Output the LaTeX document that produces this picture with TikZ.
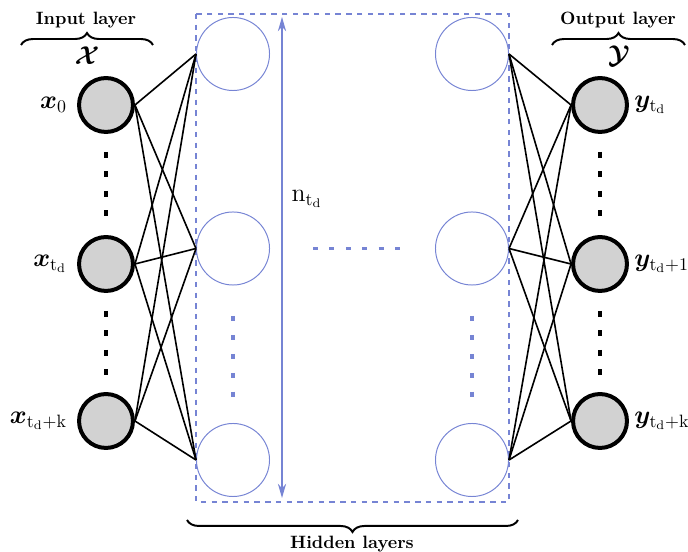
\documentclass[tikz,border=0pt]{standalone}
\usepackage{amsmath,bm}
\usetikzlibrary{arrows.meta,decorations.pathreplacing}
\definecolor{hidblue}{RGB}{118,132,212}
\begin{document}
\begin{tikzpicture}[x=0.56pt,y=-0.56pt,
  ioneuron/.style={circle,draw=black,line width=2.24pt,fill=gray!35,
    minimum size=30.2pt,inner sep=0pt},
  hidneuron/.style={circle,draw=hidblue,line width=0.55pt,
    minimum size=40.9pt,inner sep=0pt},
  inlabel/.style={label={[font=\Large,inner sep=2pt,label distance=3.5pt]left:#1}},
  outlabel/.style={label={[font=\Large,inner sep=2pt,label distance=0.8pt]right:#1}},
  wire/.style={line width=0.9pt},
  blackdots/.style={line width=1.7pt,dash pattern=on 3.2pt off 7.7pt},
  hdots/.style={hidblue,line width=1.7pt,dash pattern=on 2.8pt off 6.4pt},
  vbluedots/.style={hidblue,line width=1.7pt,dash pattern=on 2.8pt off 7.8pt},
  layerbrace/.style={decorate,decoration={brace,amplitude=6.7pt},line width=1.1pt},
  title/.style={font=\bfseries}]
\useasboundingbox (0,0) rectangle (688,552);

% hidden-layer frame
\draw[hidblue,dashed,line width=0.8pt] (196,14) rectangle (509,502);

% input neurons
\node[ioneuron,inlabel={$\bm{x}_0$}] (in1) at (106,105) {};
\node[ioneuron,inlabel={$\bm{x}_{\mathrm{t_d}}$}] (in2) at (106,264) {};
\node[ioneuron,inlabel={$\bm{x}_{\mathrm{t_d+k}}$}] (in3) at (106,421) {};

% output neurons
\node[ioneuron,outlabel={$\bm{y}_{\mathrm{t_d}}$}] (out1) at (600,105) {};
\node[ioneuron,outlabel={$\bm{y}_{\mathrm{t_d+1}}$}] (out2) at (600,264) {};
\node[ioneuron,outlabel={$\bm{y}_{\mathrm{t_d+k}}$}] (out3) at (600,421) {};

% hidden neurons, first and last layer
\node[hidneuron] (hl1) at (233,54) {};
\node[hidneuron] (hl2) at (233,248.5) {};
\node[hidneuron] (hl3) at (233,460) {};
\node[hidneuron] (hr1) at (472,54) {};
\node[hidneuron] (hr2) at (472,248.5) {};
\node[hidneuron] (hr3) at (472,460) {};

% full connections
\foreach \i in {1,2,3}{
  \foreach \j in {1,2,3}{
    \draw[wire] (in\i.east) -- (hl\j.west);
    \draw[wire] (hr\j.east) -- (out\i.west);
  }
}

% ellipses between neurons
\coordinate (ia) at (106,152);  \coordinate (ib) at (106,217);
\coordinate (ic) at (106,311);  \coordinate (id) at (106,376);
\coordinate (oa) at (600,152);  \coordinate (ob) at (600,217);
\coordinate (oc) at (600,311);  \coordinate (od) at (600,376);
\draw[blackdots] (ia) -- (ib);
\draw[blackdots] (ic) -- (id);
\draw[blackdots] (oa) -- (ob);
\draw[blackdots] (oc) -- (od);

\coordinate (la) at (233,316); \coordinate (lb) at (233,398);
\coordinate (ra) at (472,316); \coordinate (rb) at (472,398);
\draw[vbluedots] (la) -- (lb);
\draw[vbluedots] (ra) -- (rb);
\coordinate (ma) at (313,248.5); \coordinate (mb) at (402,248.5);
\draw[hdots] (ma) -- (mb);

% layer width arrow
\coordinate (at) at (282,17);
\coordinate (ab) at (282,498);
\draw[hidblue,line width=0.75pt,{Stealth[length=8pt,width=4.6pt]}-{Stealth[length=8pt,width=4.6pt]}] (at) -- (ab);
\node[font=\Large] (nlab) at (307,199) {$\mathrm{n_{t_d}}$};

% braces and titles
\draw[layerbrace] (21,45) -- (153,45);
\node[title] (tin) at (86,20) {Input layer};
\node[font=\Large] (calx) at (87,56) {$\bm{\mathcal{X}}$};

\draw[layerbrace] (552,45) -- (685,45);
\node[title] (tout) at (618,20) {Output layer};
\node[font=\Large] (caly) at (619,56) {$\bm{\mathcal{Y}}$};

\draw[layerbrace] (518,520) -- (187,520);
\node[title] (thid) at (352,544) {Hidden layers};
\end{tikzpicture}
\end{document}
